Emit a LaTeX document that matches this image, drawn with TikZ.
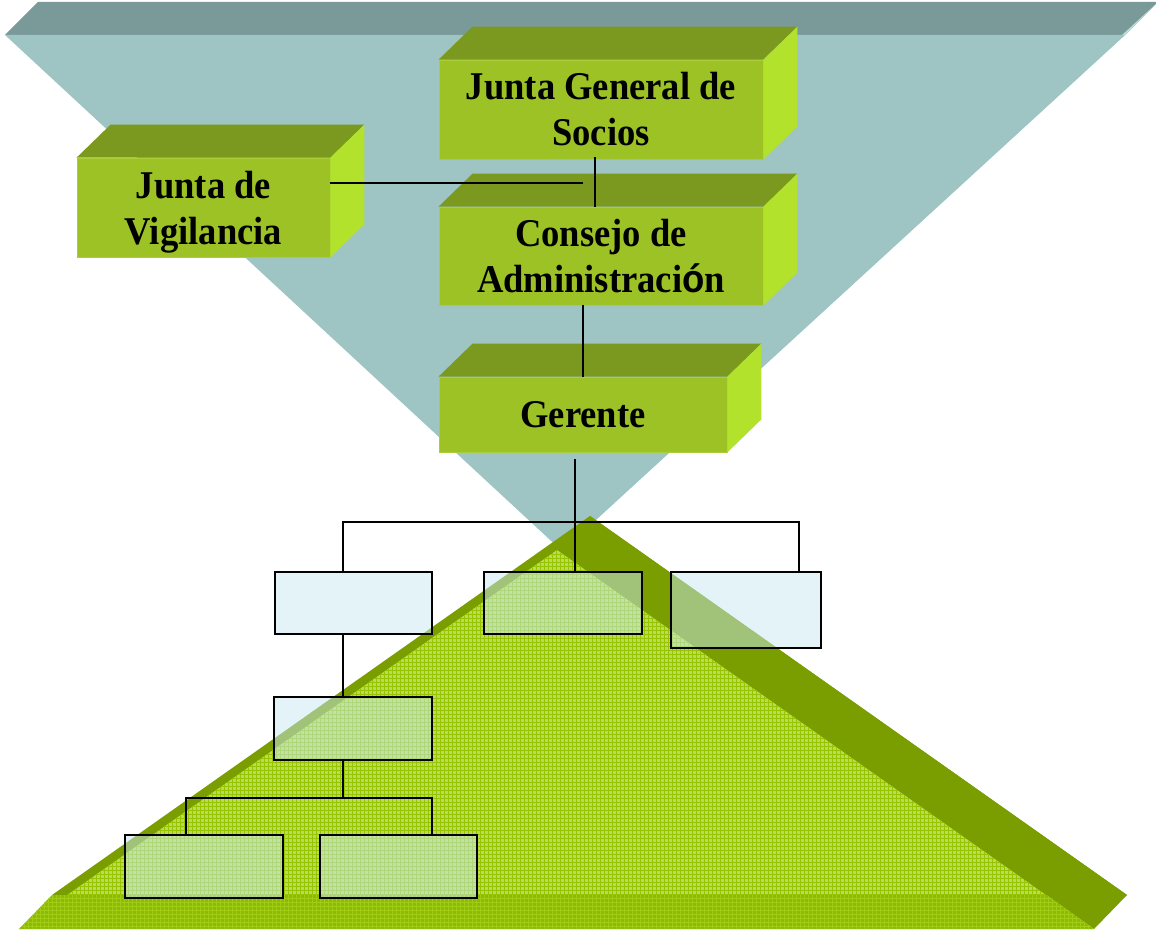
\documentclass[tikz,border=0pt]{standalone}
\usepackage{fontspec}
\setmainfont[FakeStretch=0.93]{Liberation Serif}
\newfontfamily\arialfont[FakeStretch=0.93]{Liberation Sans}
\usetikzlibrary{calc,patterns}
\definecolor{tealfront}{RGB}{158,196,196}
\definecolor{tealtop}{RGB}{122,153,153}
\definecolor{tealside}{RGB}{185,222,222}
\definecolor{gdark}{RGB}{122,158,0}
\definecolor{gfront}{RGB}{186,218,95}
\definecolor{ggrid}{RGB}{150,196,0}
\definecolor{gband}{RGB}{140,186,12}
\definecolor{gbandgrid}{RGB}{160,205,20}
\definecolor{boxfront}{RGB}{157,194,38}
\definecolor{boxtop}{RGB}{122,153,30}
\definecolor{boxright}{RGB}{178,226,44}
\definecolor{boxedge}{RGB}{170,205,60}
\definecolor{boxblue}{RGB}{200,232,242}
\tikzset{
  gbox/.style={fill=boxfront, draw=boxedge, line width=0.6pt, inner sep=0pt, align=center,
    font=\bfseries\fontsize{29.5}{34.5}\selectfont},
  link/.style={draw=black, line width=1.1pt},
  orgbox/.style={draw=black, line width=1.5pt, fill=boxblue, fill opacity=0.5, inner sep=0pt},
}
\newcommand{\boxfaces}[1]{%
  \fill[boxtop] (#1.north west) -- ++(34,-33) -- ($(#1.north east)+(34,-33)$) -- (#1.north east) -- cycle;
  \fill[boxright] (#1.north east) -- ++(34,-33) -- ($(#1.south east)+(34,-33)$) -- (#1.south east) -- cycle;}
\begin{document}
\begin{tikzpicture}[x=0.75pt,y=-0.75pt]
\useasboundingbox (0,0) rectangle (1156,930);
% inverted teal prism
\fill[tealtop] (5,35) -- (38,2) -- (1158,2) -- (1125,35) -- cycle;
\fill[tealside] (1125,35) -- (1158,2) -- (595,518) -- (562,551) -- cycle;
\fill[tealfront] (5,35) -- (1125,35) -- (562,551) -- cycle;
% green prism
\fill[gdark] (590,516) -- (52,895) -- (1127,895) -- cycle;
\fill[gdark] (590,516) -- (1127,895) -- (1094,929) -- (557,550) -- cycle;
\fill[gfront] (557,550) -- (19,929) -- (1094,929) -- cycle;
\fill[pattern=grid, pattern color=ggrid] (557,550) -- (19,929) -- (1094,929) -- cycle;
\fill[gband] (52,895) -- (1047,895) -- (1094,929) -- (19,929) -- cycle;
\fill[pattern=grid, pattern color=gbandgrid] (52,895) -- (1047,895) -- (1094,929) -- (19,929) -- cycle;
% 3D boxes
\node[gbox, minimum width=243pt, minimum height=74.25pt] (jg) at (601,109.5) {Junta General de\\Socios};
\boxfaces{jg}
\node[gbox, minimum width=243pt, minimum height=73.5pt] (cons) at (601,256) {Consejo de\\Administraci{\arialfont ó}n};
\boxfaces{cons}
\node[gbox, minimum width=216pt, minimum height=56.25pt] (ger) at (583,414.5) {Gerente};
\boxfaces{ger}
\node[gbox, minimum width=189.75pt, minimum height=74.25pt] (vig) at (203.5,207.5) {Junta de\\\smash{Vigilancia}};
\boxfaces{vig}
% upper connectors
\coordinate (vigend) at (583,183);
\coordinate (jgx) at (595,0);
\draw[link] (jg.south -| jgx) ++(0,-2) -- (cons.north -| jgx);
\draw[link] (vig.east |- vigend) -- (vigend);
\draw[link] (cons.south -| ger.north) -- (ger.north);
% lower org boxes
\node[orgbox, minimum width=117.75pt, minimum height=46.5pt] (a) at (353.5,603) {};
\node[orgbox, minimum width=118.5pt, minimum height=46.5pt] (b) at (563,603) {};
\node[orgbox, minimum width=112.5pt, minimum height=57pt] (c) at (746,610) {};
\node[orgbox, minimum width=118.5pt, minimum height=47.25pt] (d) at (353,728.5) {};
\node[orgbox, minimum width=118.5pt, minimum height=47.25pt] (e) at (204,866) {};
\node[orgbox, minimum width=117.75pt, minimum height=47.25pt] (f) at (398.5,866) {};
% lower connectors
\coordinate (gtail) at (575,459);
\coordinate (barL) at (343,522);
\coordinate (barR) at (799,522);
\coordinate (bar2) at (343,798);
\coordinate (bar2L) at (186,798);
\coordinate (bar2R) at (432,798);
\draw[link] (gtail) -- (gtail |- b.north);
\draw[link] (barL |- a.north) -- (barL) -- (barR) -- (barR |- c.north);
\draw[link] (barL |- a.south) -- (barL |- d.north);
\draw[link] (bar2 |- d.south) -- (bar2);
\draw[link] (bar2L |- e.north) -- (bar2L) -- (bar2R) -- (bar2R |- f.north);
\end{tikzpicture}
\end{document}
